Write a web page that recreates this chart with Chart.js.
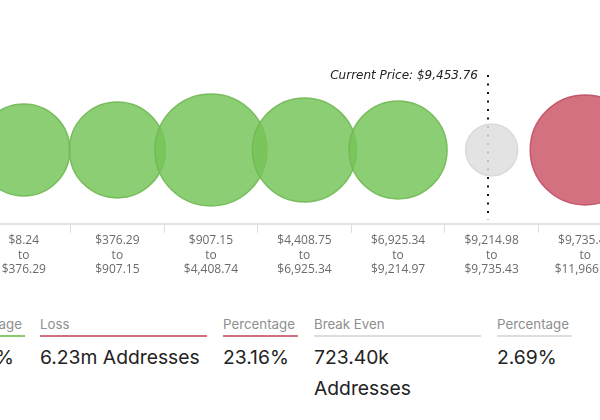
<!DOCTYPE html>
<html>
<head>
<meta charset="utf-8">
<script src="https://cdn.jsdelivr.net/npm/chart.js@4"></script>
<style>
  html, body { margin: 0; padding: 0; background: #fff; }
  body { width: 600px; height: 420px; overflow: hidden; position: relative; }
  #chart { position: absolute; left: -23px; top: 0; }
  .stat { position: absolute; top: 316px; font-family: Inter, "Noto Sans", sans-serif; }
  .stat .lbl { font-size: 13.3px; color: #8f8f8f; padding-bottom: 3px; border-bottom: 2px solid #ddd; }
  .stat .val { font-size: 19.3px; color: #222; margin-top: 5px; line-height: 31px; }
  .big { width: 167px; }
  .small { width: 75px; }
  .green .lbl { border-color: #8cc96e; }
  .red .lbl { border-color: #d0707e; }
</style>
</head>
<body>
<canvas id="chart" width="655" height="278"></canvas>

<div class="stat small green" style="left:-50px"><div class="lbl">Percentage</div><div class="val">74.15%</div></div>
<div class="stat big red" style="left:40px"><div class="lbl">Loss</div><div class="val">6.23m Addresses</div></div>
<div class="stat small red" style="left:223px"><div class="lbl">Percentage</div><div class="val">23.16%</div></div>
<div class="stat big" style="left:314px"><div class="lbl">Break Even</div><div class="val">723.40k<br>Addresses</div></div>
<div class="stat small" style="left:497px"><div class="lbl">Percentage</div><div class="val">2.69%</div></div>

<script>
// price ranges (visible part of the chart)
const rangeFrom = ['$8.24', '$376.29', '$907.15', '$4,408.75', '$6,925.34', '$9,214.98', '$9,735.44'];
const rangeTo = ['$376.29', '$907.15', '$4,408.74', '$6,925.34', '$9,214.97', '$9,735.43', '$11,966.00'];
// bubble radius per range (px)
const bubbleRadius = [46, 48, 56, 52, 49, 26, 55];
// status per range: in profit / break even / loss
const rangeStatus = ['profit', 'profit', 'profit', 'profit', 'profit', 'even', 'loss'];

const currentPrice = 9453.76;
const priceRangeIndex = 5;
const priceRangeLow = 9214.98;
const priceRangeHigh = 9735.43;

const fills = { profit: 'rgba(120,198,90,0.85)', even: 'rgba(222,222,222,0.85)', loss: 'rgba(204,88,106,0.85)' };
const borders = { profit: 'rgba(112,184,84,0.9)', even: 'rgba(215,215,215,0.9)', loss: 'rgba(190,80,98,0.9)' };

const labels = rangeFrom.map((f, i) => [f, 'to', rangeTo[i]]);

// dotted line + "Current Price" text
const priceLine = {
    id: 'priceLine',
    beforeDatasetsDraw(chart) {
        const ctx = chart.ctx;
        const xs = chart.scales.x;
        const frac = (currentPrice - priceRangeLow) / (priceRangeHigh - priceRangeLow);
        const x = Math.round(xs.getPixelForValue(priceRangeIndex + frac - 0.5));
        const top = chart.chartArea.top - 1;
        const bottom = chart.chartArea.bottom - 4;
        ctx.save();
        ctx.strokeStyle = '#111';
        ctx.lineWidth = 2;
        ctx.setLineDash([2, 6.5]);
        ctx.beginPath();
        ctx.moveTo(x, top);
        ctx.lineTo(x, bottom);
        ctx.stroke();
        ctx.setLineDash([]);
        ctx.fillStyle = '#222';
        ctx.font = 'italic 12px "DejaVu Sans", sans-serif';
        ctx.textAlign = 'right';
        ctx.textBaseline = 'middle';
        ctx.fillText('Current Price: $' + currentPrice.toLocaleString('en-US', { minimumFractionDigits: 2 }), x - 10, top + 1);
        ctx.restore();
    }
};

new Chart(document.getElementById('chart'), {
    type: 'bubble',
    data: {
        labels: labels,
        datasets: [{
            data: bubbleRadius.map((r, i) => ({ x: i, y: 0, r: r })),
            backgroundColor: rangeStatus.map(s => fills[s]),
            borderColor: rangeStatus.map(s => borders[s]),
            borderWidth: 1.5,
            clip: false
        }]
    },
    options: {
        responsive: false,
        animation: false,
        layout: { autoPadding: false, padding: { top: 76, left: 0, right: 0, bottom: 0 } },
        plugins: { legend: { display: false }, tooltip: { enabled: false } },
        scales: {
            x: {
                type: 'category',
                offset: true,
                grid: { offset: true, drawOnChartArea: false, color: '#ddd', tickLength: 9 },
                border: { color: '#e2e2e2', width: 2 },
                ticks: {
                    color: '#6a6a6a',
                    padding: 1,
                    maxRotation: 0,
                    autoSkip: false,
                    font: { family: 'Open Sans', size: 12, lineHeight: 1.2 }
                }
            },
            y: { display: false, min: -1, max: 1 }
        }
    },
    plugins: [priceLine]
});
</script>
</body>
</html>
